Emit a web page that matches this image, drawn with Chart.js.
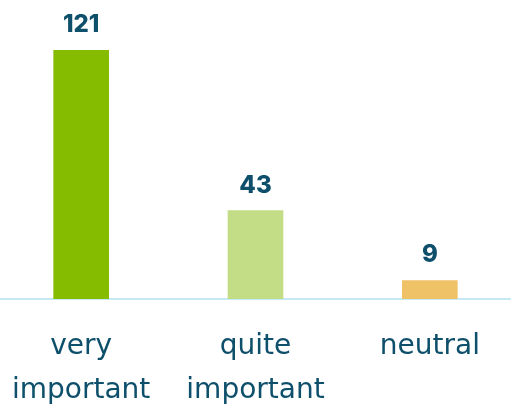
<!DOCTYPE html>
<html>
<head>
<meta charset="utf-8">
<script src="https://cdn.jsdelivr.net/npm/chart.js@4/dist/chart.umd.min.js"></script>
<style>
  html, body { margin: 0; padding: 0; overflow: hidden; background: #fff; }
  #wrap { position: absolute; left: -6px; top: 0; width: 523px; height: 405px; }
</style>
</head>
<body>
<div id="wrap"><canvas id="importance"></canvas></div>
<script>
const categories = [['very', 'important'], ['quite', 'important'], 'neutral'];
const answers = [121, 43, 9];
const barColors = ['#86bc00', '#c3dd86', '#f0c267'];

const textColor = '#0e4f6b';

// numbers above each bar
const valueLabels = {
    id: 'valueLabels',
    afterDatasetsDraw(chart) {
        const ctx = chart.ctx;
        const meta = chart.getDatasetMeta(0);
        ctx.save();
        ctx.font = '800 24px Inter, sans-serif';
        ctx.fillStyle = textColor;
        ctx.textAlign = 'center';
        ctx.textBaseline = 'alphabetic';
        meta.data.forEach((bar, i) => {
            ctx.fillText(String(answers[i]), bar.x, bar.y - 18);
        });
        ctx.restore();
    }
};

new Chart(document.getElementById('importance'), {
    type: 'bar',
    data: {
        labels: categories,
        datasets: [{
            data: answers,
            backgroundColor: barColors,
            barThickness: 55
        }]
    },
    options: {
        responsive: true,
        maintainAspectRatio: false,
        animation: false,
        layout: { padding: { top: 50, left: 0, right: 0, bottom: 0 } },
        plugins: {
            legend: { display: false },
            tooltip: { enabled: false }
        },
        scales: {
            x: {
                grid: { display: false },
                border: { display: true, color: '#c6e9f7', width: 2 },
                ticks: {
                    color: textColor,
                    padding: 17,
                    font: { family: '"DejaVu Sans", sans-serif', size: 28, lineHeight: 1.6 }
                },
                afterFit(scale) { scale.height = 106; }
            },
            y: {
                display: false,
                min: 0,
                max: 121
            }
        }
    },
    plugins: [valueLabels]
});
</script>
</body>
</html>
